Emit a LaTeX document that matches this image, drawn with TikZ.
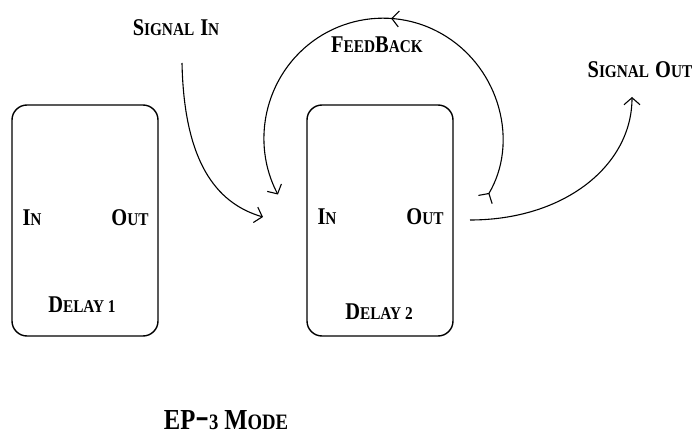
\documentclass[tikz,border=0pt]{standalone}
\usepackage{fontspec}
\newfontfamily\wfont[FakeStretch=0.85]{Liberation Serif}
\usetikzlibrary{arrows.meta,decorations.markings}
\newcommand{\wc}[2]{{\fontsize{24}{24}\selectfont #1}{\fontsize{18}{18}\selectfont #2}}
\newcommand{\wcb}[2]{{\fontsize{29}{29}\selectfont #1}{\fontsize{22}{22}\selectfont #2}}
\newcommand{\wsp}{\hspace{6pt}}
\tikzset{
  box/.style={draw, line width=1.4pt, rounded corners=15pt, minimum width=146pt, minimum height=231pt, inner sep=0pt},
  lbl/.style={font=\wfont\bfseries, inner sep=0pt, text depth=0pt},
  barb/.tip={Straight Barb[length=7pt,width=16pt,line width=1.1pt]},
  rbarb/.tip={Straight Barb[reversed,length=7pt,width=16pt,line width=1.1pt]},
  conn/.style={line width=1.1pt, arrows={-barb}},
}
\begin{document}
\begin{tikzpicture}[x=1pt,y=1pt]
\useasboundingbox (0,0) rectangle (697,-438);
% boxes
\node[box] (d1) at (85,-220.5) {};
\node[box] (d2) at (380,-220.5) {};
% labels
\node[lbl] (in1) at (32,-218) {\wc{I}{N}};
\node[lbl] (out1) at (130,-218) {\wc{O}{UT}};
\node[lbl] (del1) at (82,-305) {\wc{D}{ELAY 1}};
\node[lbl] (in2) at (327,-217) {\wc{I}{N}};
\node[lbl] (out2) at (425,-217) {\wc{O}{UT}};
\node[lbl] (del2) at (379,-312) {\wc{D}{ELAY 2}};
\node[lbl] (sin) at (176,-28) {\wc{S}{IGNAL}\wsp\wc{I}{N}};
\node[lbl] (fb) at (377,-45) {\wc{F}{EED}\wc{B}{ACK}};
\node[lbl] (sout) at (640,-70) {\wc{S}{IGNAL}\wsp\wc{O}{UT}};
\node[lbl] (mode) at (226,-420) {\wcb{EP}{\raisebox{2pt}{\scalebox{2.2}[1.6]{-}}3}\wsp\wcb{M}{ODE}};
% connector end points
\coordinate (sinA) at (182,-63);
\coordinate (sinB) at (263,-217);
\coordinate (fbA) at (485,-200);
\coordinate (soA) at (470,-220);
\coordinate (soB) at (632,-97);
% signal in
\draw[conn] (sinA) .. controls (184,-160) and (215,-203) .. (sinB);
% feedback loop
\draw[line width=1.1pt, arrows={rbarb-barb},
  postaction={decorate}, decoration={markings, mark=at position 0.49 with {\arrow{barb}}}]
  (fbA) arc[start angle=-31, end angle=208, x radius=119, y radius=120];
% signal out
\draw[conn] (soA) .. controls (565,-220) and (632,-165) .. (soB);
\end{tikzpicture}
\end{document}
